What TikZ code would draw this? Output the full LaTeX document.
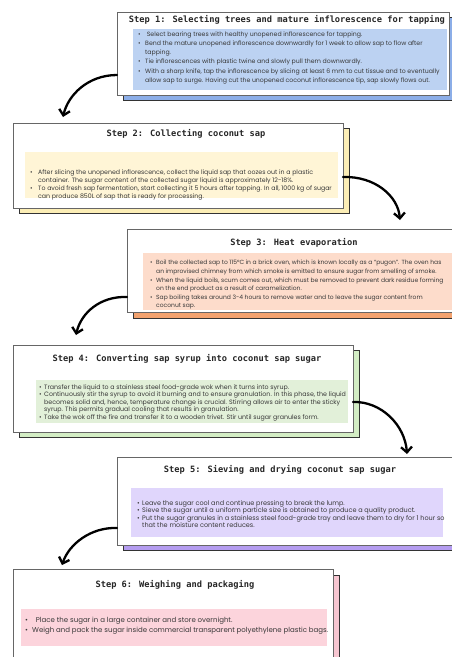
\documentclass[tikz,border=0pt]{standalone}
\usepackage{fontspec}
\setmainfont{Poppins}
\newfontfamily\titlefont{DejaVu Sans Mono}
\usetikzlibrary{arrows.meta}
\definecolor{bluein}{HTML}{BCD2F2}
\definecolor{blueout}{HTML}{8CAEE8}
\definecolor{yelin}{HTML}{FFF5D6}
\definecolor{yelout}{HTML}{FCEEB6}
\definecolor{orain}{HTML}{FDDCCB}
\definecolor{oraout}{HTML}{F2A26F}
\definecolor{grein}{HTML}{E2F0D9}
\definecolor{greout}{HTML}{D3EDC4}
\definecolor{purin}{HTML}{E0D6FC}
\definecolor{purout}{HTML}{B49CF0}
\definecolor{pinin}{HTML}{FCD4DC}
\definecolor{pinout}{HTML}{F7C6D1}
\newcommand\bul[1]{\makebox[#1][l]{\textbullet}}
\newcommand\ind[1]{\hspace*{#1}}
\begin{document}
\begin{tikzpicture}[x=1pt,y=-1pt,
  shadowbox/.style={draw=black!80, line width=0.9pt, inner sep=0pt, outer sep=0pt, anchor=north west},
  mainbox/.style={draw=black!60, fill=white, line width=0.9pt, inner sep=0pt, outer sep=0pt, anchor=north west},
  innerbox/.style={draw=none, inner sep=0pt, outer sep=0pt, anchor=north west},
  steptitle/.style={font=\titlefont\bfseries\fontsize{8.7}{10}\selectfont, inner sep=0pt, text=black!85},
  bodytext/.style={align=left, inner sep=0pt, anchor=north west, text=black!78},
  flow/.style={line width=2.3pt, line cap=round, line join=round, -{Straight Barb[length=5.5pt,width=11pt]}}]
\useasboundingbox (0,0) rectangle (452,657);
\clip (0,0) rectangle (452,657);
% Step 1
\node[shadowbox, fill=blueout, minimum width=332pt, minimum height=83pt] (sh1) at (123,17) {};
\node[mainbox, minimum width=332pt, minimum height=83pt] (b1) at (117,12) {};
\node[innerbox, fill=bluein, minimum width=314pt, minimum height=61pt] (i1) at (133,29) {};
\node[steptitle] (t1) at (287,20) {Step 1: Selecting trees and mature inflorescence for tapping};
\node[bodytext, font=\fontsize{6.2}{9.3}\selectfont] (s1t) at (138,31.1) {%
\bul{7pt}\ Select bearing trees with healthy unopened inflorescence for tapping.\\
\bul{7pt}Bend the mature unopened inflorescence downwardly for 1 week to allow sap to flow after\\
\ind{7pt}tapping.\\
\bul{7pt}Tie inflorescences with plastic twine and slowly pull them downwardly.\\
\bul{7pt}With a sharp knife, tap the inflorescence by slicing at least 6 mm to cut tissue and to eventually\\
\ind{7pt}allow sap to surge. Having cut the unopened coconut inflorescence tip, sap slowly flows out.};
% Step 2
\node[shadowbox, fill=yelout, minimum width=330pt, minimum height=85pt] (sh2) at (19,128) {};
\node[mainbox, minimum width=330pt, minimum height=85pt] (b2) at (13,123) {};
\node[innerbox, fill=yelin, minimum width=313pt, minimum height=46pt] (i2) at (25,152) {};
\node[steptitle] (t2) at (186,134) {Step 2: Collecting coconut sap};
\node[bodytext, font=\fontsize{6.25}{8}\selectfont] (s2t) at (30,169.1) {%
\bul{8pt}After slicing the unopened inflorescence, collect the liquid sap that oozes out in a plastic\\
\ind{8pt}container. The sugar content of the collected sugar liquid is approximately 12-18\%.\\
\bul{8pt}To avoid fresh sap fermentation, start collecting it 5 hours after tapping. In all, 1000 kg of sugar\\
\ind{8pt}can produce 850L of sap that is ready for processing.};
% Step 3
\node[shadowbox, fill=oraout, minimum width=343pt, minimum height=83pt] (sh3) at (133,235) {};
\node[mainbox, minimum width=343pt, minimum height=83pt] (b3) at (127,229) {};
\node[innerbox, fill=orain, minimum width=330pt, minimum height=57pt] (i3) at (143,253) {};
\node[steptitle] (t3) at (294,243) {Step 3: Heat evaporation};
\node[bodytext, font=\fontsize{6.0}{8.6}\selectfont] (s3t) at (150,260.2) {%
\bul{6pt}Boil the collected sap to 115°C in a brick oven, which is known locally as a “pugon”. The oven has\\
\ind{6pt}an improvised chimney from which smoke is emitted to ensure sugar from smelling of smoke.\\
\bul{6pt}When the liquid boils, scum comes out, which must be removed to prevent dark residue forming\\
\ind{6pt}on the end product as a result of caramelization.\\
\bul{6pt}Sap boiling takes around 3-4 hours to remove water and to leave the sugar content from\\
\ind{6pt}coconut sap.};
% Step 4
\node[shadowbox, fill=greout, minimum width=340pt, minimum height=87pt] (sh4) at (19,350) {};
\node[mainbox, minimum width=340pt, minimum height=87pt] (b4) at (13,345) {};
\node[innerbox, fill=grein, minimum width=312pt, minimum height=43pt] (i4) at (36,380) {};
\node[steptitle] (t4) at (187,359) {Step 4: Converting sap syrup into coconut sap sugar};
\node[bodytext, font=\fontsize{6.3}{7.5}\selectfont] (s4t) at (39,384) {%
\bul{5pt}Transfer the liquid to a stainless steel food-grade wok when it turns into syrup.\\
\bul{5pt}Continuously stir the syrup to avoid it burning and to ensure granulation. In this phase, the liquid\\
\ind{5pt}becomes solid and, hence, temperature change is crucial. Stirring allows air to enter the sticky\\
\ind{5pt}syrup. This permits gradual cooling that results in granulation.\\
\bul{5pt}Take the wok off the fire and transfer it to a wooden trivet. Stir until sugar granules form.};
% Step 5
\node[shadowbox, fill=purout, minimum width=353pt, minimum height=88pt] (sh5) at (123,462) {};
\node[mainbox, minimum width=353pt, minimum height=88pt] (b5) at (117,457) {};
\node[innerbox, fill=purin, minimum width=312pt, minimum height=49pt] (i5) at (131,488) {};
\node[steptitle] (t5) at (280,470) {Step 5: Sieving and drying coconut sap sugar};
\node[bodytext, font=\fontsize{6.5}{7.5}\selectfont] (s5t) at (137,500) {%
\bul{5pt}Leave the sugar cool and continue pressing to break the lump.\\
\bul{5pt}Sieve the sugar until a uniform particle size is obtained to produce a quality product.\\
\bul{5pt}Put the sugar granules in a stainless steel food-grade tray and leave them to dry for 1 hour so\\
\ind{5pt}that the moisture content reduces.};
% Step 6
\node[shadowbox, fill=pinout, minimum width=320pt, minimum height=90pt] (sh6) at (19,575) {};
\node[mainbox, minimum width=320pt, minimum height=90pt] (b6) at (13,569) {};
\node[innerbox, fill=pinin, minimum width=306pt, minimum height=37pt] (i6) at (21,609) {};
\node[steptitle] (t6) at (175,585) {Step 6: Weighing and packaging};
\node[bodytext, font=\fontsize{7.0}{10}\selectfont] (s6t) at (25,616.7) {%
\bul{7pt}\ \ Place the sugar in a large container and store overnight.\\
\bul{7pt}Weigh and pack the sugar inside commercial transparent polyethylene plastic bags.};
% connectors
\coordinate (a1e) at (63,117);
\coordinate (a2e) at (400,220);
\coordinate (a3e) at (76,335);
\coordinate (a4e) at (407,454);
\coordinate (a5e) at (62,565);
\draw[flow] ([yshift=-21.5pt]b1.west) .. controls (88,75) and (68,95) .. (a1e);
\draw[flow] ([yshift=-11.5pt]b2.east) .. controls (375,176) and (398,196) .. (a2e);
\draw[flow] ([yshift=-26.5pt]b3.west) .. controls (100,296) and (81,313) .. (a3e);
\draw[flow] ([yshift=-13.5pt]b4.east) .. controls (381,401) and (405,425) .. (a4e);
\draw[flow] ([yshift=-27pt]b5.west) .. controls (91,527) and (69,544) .. (a5e);
\end{tikzpicture}
\end{document}
